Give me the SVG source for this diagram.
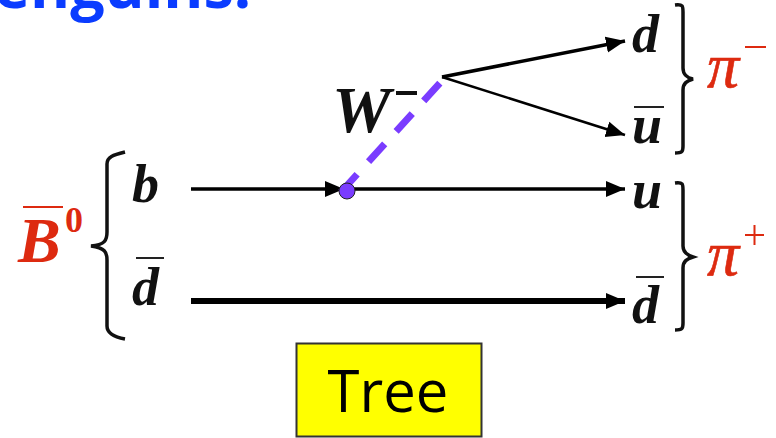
<svg xmlns="http://www.w3.org/2000/svg" width="776" height="438" viewBox="0 0 776 438">
<style>
.q{font-family:"Liberation Serif",serif;font-style:italic;font-weight:bold;font-size:54px;fill:#111}
.r{font-family:"Liberation Serif",serif;font-style:italic;fill:#dd2a10}
.br{fill:none;stroke:#111;stroke-width:3.5}
.bar{stroke:#222;stroke-width:2}
.l{stroke:#000;fill:none}
</style>
<defs>
<marker id="a" markerUnits="userSpaceOnUse" markerWidth="20" markerHeight="18" refX="19" refY="9" orient="auto"><path d="M0 1L19 9L0 17Z" fill="#000"/></marker>
</defs>
<text id="title" x="-6" y="8" font-family="Open Sans,sans-serif" font-weight="700" font-size="61" fill="#0a3cff">enguins:</text>
<g id="connectors">
<path class="l" stroke-width="3.500" d="M191 189H344" marker-end="url(#a)"/>
<path class="l" stroke-width="3.500" d="M348 189H625" marker-end="url(#a)"/>
<path class="l" stroke-width="6" d="M191 301H625" marker-end="url(#a)"/>
<path class="l" stroke-width="3.500" d="M442 77L625 41" marker-end="url(#a)"/>
<path class="l" stroke-width="2.500" d="M442 77L625 135" marker-end="url(#a)"/>
<path d="M341 192L440 83" fill="none" stroke="#7a3cff" stroke-width="7" stroke-dasharray="24 17"/>
</g>
<g id="vertex"><circle cx="347" cy="191" r="8" fill="#7a3cff" stroke="#222" stroke-width="1"/></g>
<g id="q-b"><text class="q" x="132" y="202">b</text></g>
<g id="q-dbar-left"><text class="q" x="132" y="305">d</text><line class="bar" x1="136" y1="258" x2="164" y2="258"/></g>
<g id="q-d"><text class="q" x="632" y="52">d</text></g>
<g id="q-ubar"><text class="q" x="632" y="143">u</text><line class="bar" x1="634" y1="107" x2="664" y2="107"/></g>
<g id="q-u"><text class="q" x="632" y="208">u</text></g>
<g id="q-dbar-right"><text class="q" x="632" y="323">d</text><line class="bar" x1="636" y1="277" x2="664" y2="277"/></g>
<g id="w"><text class="q" x="332" y="132" style="font-size:66px">W</text><line x1="396" y1="93" x2="417" y2="93" stroke="#111" stroke-width="4"/></g>
<g id="b0"><text class="r" x="18" y="262" font-size="64" font-weight="bold">B</text><text x="65" y="232" font-family="Liberation Serif,serif" font-size="36" font-weight="bold" fill="#dd2a10">0</text><line x1="23" y1="207" x2="63" y2="207" stroke="#dd2a10" stroke-width="2"/></g>
<g id="brace-left"><path class="br" d="M125 152C113 155 107 157 107 164V232C107 240 105 245 91 246C105 248 107 252 107 260V326C107 333 114 337 125 339"/></g>
<g id="brace-top"><path class="br" d="M675 5C683 4 683 6 683 12V68C683 74 687 78 693 79C687 81 683 83 683 90V146C683 152 682 153 675 153"/></g>
<g id="brace-bottom"><path class="br" d="M675 183C683 182 683 184 683 190V246C683 252 687 255 693 257C687 259 683 261 683 268V323C683 329 682 330 675 330"/></g>
<g id="pi-minus"><text class="r" x="707" y="87" font-size="64" stroke="#dd2a10" stroke-width="0.600">π</text><line x1="745" y1="47" x2="766" y2="47" stroke="#dd2a10" stroke-width="2"/></g>
<g id="pi-plus"><text class="r" x="707" y="275" font-size="64" stroke="#dd2a10" stroke-width="0.600">π</text><path d="M745 235H764M754.500 225V245" stroke="#dd2a10" stroke-width="2" fill="none"/></g>
<g id="tree"><rect x="296.500" y="343.500" width="185" height="93" fill="#ffff00" stroke="#333" stroke-width="2"/><text x="388" y="412" text-anchor="middle" font-family="Open Sans,sans-serif" font-size="58" fill="#000">Tree</text></g>
</svg>
